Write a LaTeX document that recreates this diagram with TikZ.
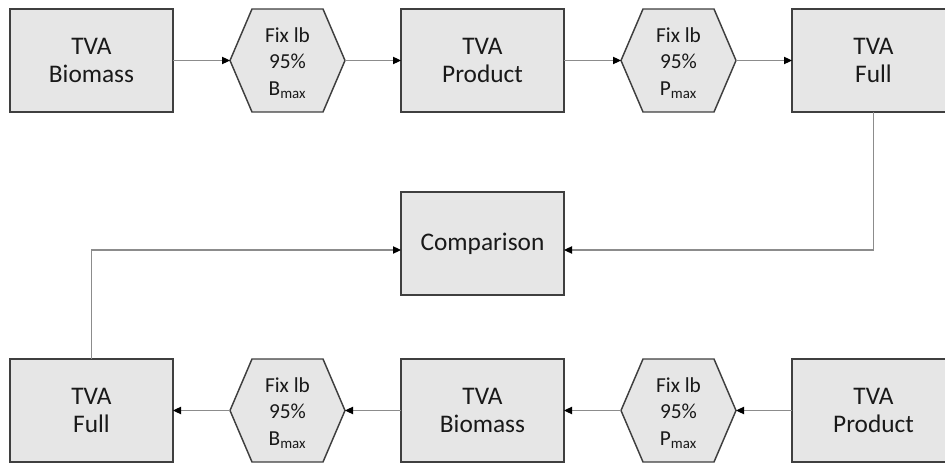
\documentclass[tikz,border=0pt]{standalone}
\usepackage{fontspec}
\setmainfont{Carlito}
\usetikzlibrary{arrows.meta,calc,backgrounds}

\definecolor{boxfill}{HTML}{E6E6E6}
\definecolor{boxline}{HTML}{3F3F3F}
\definecolor{connline}{HTML}{8C8C8C}

\tikzset{
  stagebox/.style={rectangle, draw=boxline, fill=boxfill, line width=1.1pt,
    minimum width=122.25pt, minimum height=77.25pt, inner sep=0pt, outer sep=0pt,
    align=center, font=\fontsize{19}{21}\selectfont, text=black!90},
  fixbox/.style={rectangle, draw=none, minimum width=86.25pt, minimum height=77.25pt,
    inner sep=0pt, outer sep=0pt, align=center,
    font=\fontsize{16}{20}\selectfont, text=black!90},
  hexline/.style={draw=boxline, fill=boxfill, line width=1.1pt, line join=miter},
  conn/.style={draw=connline, line width=0.8pt,
    -{Triangle[length=6pt,width=5.5pt,color=black]}}
}

% draws the hexagonal outline around a fix-bound node
\newcommand{\hexoutline}[1]{%
  \path[hexline] (#1.west) -- ([xshift=16.5pt]#1.north west) -- ([xshift=-16.5pt]#1.north east)
    -- (#1.east) -- ([xshift=-16.5pt]#1.south east) -- ([xshift=16.5pt]#1.south west) -- cycle;}

% text of a fix-bound node, lowered slightly to sit centred
\newcommand{\fixtext}[1]{\raisebox{-6.5pt}[0pt][0pt]{\begin{tabular}{@{}c@{}}Fix lb\\95\%\\#1\textsubscript{max}\end{tabular}}}

\begin{document}
\begin{tikzpicture}[x=0.75pt, y=-0.75pt]
\useasboundingbox (0,0) rectangle (945,463);
\clip (0,0) rectangle (945,463);

% upper chain
\node[stagebox] (tb) at (91.5,60.5)  {TVA\\Biomass};
\node[fixbox]   (tfb) at (287.5,60.5) {\fixtext{B}};
\node[stagebox] (tp) at (482.5,60.5) {TVA\\Product};
\node[fixbox]   (tfp) at (678.5,60.5) {\fixtext{P}};
\node[stagebox] (tf) at (873.5,60.5) {TVA\\Full};

% comparison in the middle
\node[stagebox] (cmp) at (482.5,243.5) {Comparison};

% lower chain
\node[stagebox] (bf) at (91.5,410.5)  {TVA\\Full};
\node[fixbox]   (bfb) at (287.5,410.5) {\fixtext{B}};
\node[stagebox] (bb) at (482.5,410.5) {TVA\\Biomass};
\node[fixbox]   (bfp) at (678.5,410.5) {\fixtext{P}};
\node[stagebox] (bp) at (873.5,410.5) {TVA\\Product};

\begin{scope}[on background layer]
  \hexoutline{tfb}
  \hexoutline{tfp}
  \hexoutline{bfb}
  \hexoutline{bfp}
\end{scope}

% connectors
\draw[conn] (tb.east) -- (tfb.west);
\draw[conn] (tfb.east) -- (tp.west);
\draw[conn] (tp.east) -- (tfp.west);
\draw[conn] (tfp.east) -- (tf.west);

\draw[conn] (bp.west) -- (bfp.east);
\draw[conn] (bfp.west) -- (bb.east);
\draw[conn] (bb.west) -- (bfb.east);
\draw[conn] (bfb.west) -- (bf.east);

\draw[conn] (tf.south) |- ($(cmp.east)+(0,6.5)$);
\draw[conn] (bf.north) |- ($(cmp.west)+(0,6.5)$);
\end{tikzpicture}
\end{document}
